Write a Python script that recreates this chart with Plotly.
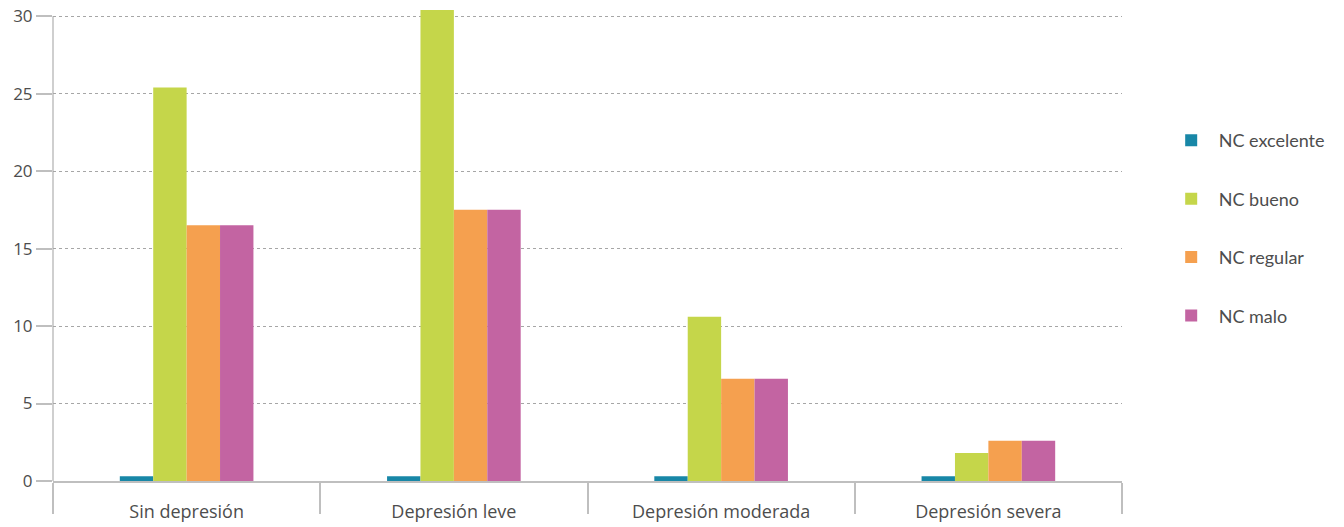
import plotly.graph_objects as go

categories = ["Sin depresión", "Depresión leve", "Depresión moderada", "Depresión severa"]
series_names = ["NC excelente", "NC bueno", "NC regular", "NC malo"]
nc_excelente = [0.3, 0.3, 0.3, 0.3]
nc_bueno = [25.4, 30.4, 10.6, 1.8]
nc_regular = [16.5, 17.5, 6.6, 2.6]
nc_malo = [16.5, 17.5, 6.6, 2.6]
y_ticks = [0, 5, 10, 15, 20, 25, 30]

colors = ["#1887A7", "#C5D64A", "#F5A04F", "#C364A2"]
values = [nc_excelente, nc_bueno, nc_regular, nc_malo]

TEXT = "#4D4D4D"
AXIS = "#BFBFBF"

fig = go.Figure()
for i, (name, vals) in enumerate(zip(series_names, values)):
    fig.add_trace(go.Bar(
        x=categories, y=vals, name=name,
        marker=dict(color=colors[i], line=dict(width=0)),
        legendgroup=name,
    ))

fig.update_layout(
    width=1344, height=527,
    margin=dict(l=53, r=222, t=10, b=46, autoexpand=False),
    paper_bgcolor="white", plot_bgcolor="white",
    barmode="group", bargap=0.5, bargroupgap=0,
    font=dict(family="Open Sans", size=17, color=TEXT),
    legend=dict(
        x=1.039, xanchor="left", y=0.537, yanchor="middle",
        font=dict(family="Lato", size=18, color=TEXT),
        traceorder="grouped", tracegroupgap=32,
        itemwidth=45,
    ),
    showlegend=True,
)

fig.update_xaxes(
    type="category", automargin=False,
    showline=True, linecolor=AXIS, linewidth=2,
    ticks="outside", tickson="boundaries", ticklen=31, tickcolor=AXIS, tickwidth=1.5,
    ticklabelstandoff=13,
    showgrid=False, zeroline=False,
    tickfont=dict(family="Open Sans", size=18, color=TEXT),
)
fig.update_yaxes(
    range=[0, 30.4], automargin=False,
    tickvals=y_ticks,
    showline=False,
    ticks="outside", ticklen=16, tickcolor=AXIS, tickwidth=1.5,
    showgrid=True, gridcolor="#A6A6A6", griddash="dot", gridwidth=1,
    zeroline=False,
    tickfont=dict(family="Open Sans", size=17, color=TEXT),
)

# vertical axis line from 0 to 30
fig.add_shape(type="line", xref="paper", yref="y", x0=0, x1=0, y0=0, y1=30,
              line=dict(color=AXIS, width=1.5), layer="below")

fig.write_html("out.html", config={"displayModeBar": False},
               post_script="document.body.style.margin='0px';")
